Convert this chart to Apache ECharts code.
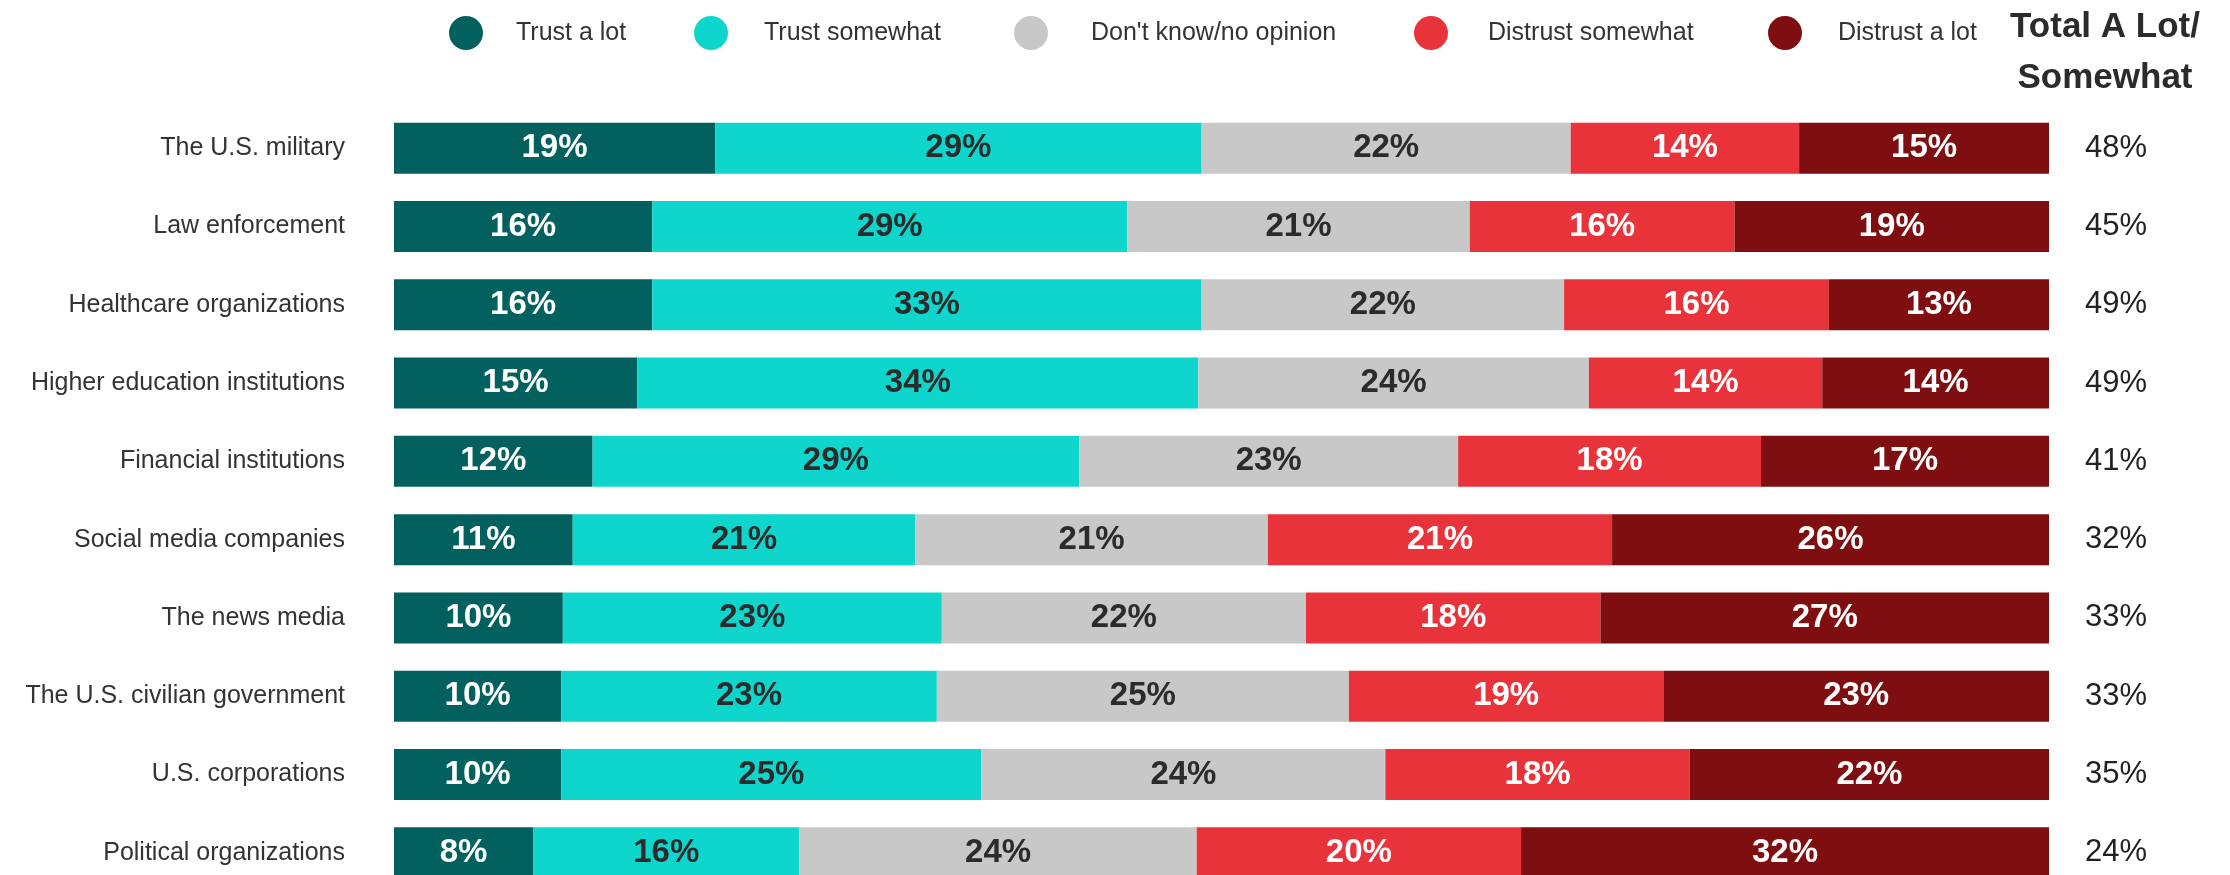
<!DOCTYPE html>
<html>
<head>
<meta charset="utf-8">
<script src="https://cdn.jsdelivr.net/npm/echarts@6/dist/echarts.min.js"></script>
<style>
html,body{margin:0;padding:0;background:#fff;}
#chart{width:2230px;height:875px;}
</style>
</head>
<body>
<div id="chart"></div>
<script>
var categories = ["The U.S. military","Law enforcement","Healthcare organizations","Higher education institutions","Financial institutions","Social media companies","The news media","The U.S. civilian government","U.S. corporations","Political organizations"];
var seriesNames = ["Trust a lot","Trust somewhat","Don't know/no opinion","Distrust somewhat","Distrust a lot"];
var trustALot       = [19.4, 15.6, 15.6, 14.7, 12.0, 10.8, 10.2, 10.1, 10.1, 8.4];
var trustSomewhat   = [29.4, 28.7, 33.2, 33.9, 29.4, 20.7, 22.9, 22.7, 25.4, 16.1];
var dontKnow        = [22.3, 20.7, 21.9, 23.6, 22.9, 21.3, 22.0, 24.9, 24.4, 24.0];
var distrustSomewhat= [13.8, 16.0, 16.0, 14.1, 18.3, 20.8, 17.8, 19.0, 18.4, 19.6];
var distrustALot    = [15.1, 19.0, 13.3, 13.7, 17.4, 26.4, 27.1, 23.3, 21.7, 31.9];
var totalALotSomewhat = ["48%","45%","49%","49%","41%","32%","33%","33%","35%","24%"];
var totalTitle = "Total A Lot/\nSomewhat";

var colors = ["#02605F","#0FD6CD","#C8C8C8","#E9333A","#7E0E10"];
var labelColors = ["#ffffff","#2b2b2b","#2b2b2b","#ffffff","#ffffff"];
var FONT = "Liberation Sans, Arial, sans-serif";
var dataSets = [trustALot, trustSomewhat, dontKnow, distrustSomewhat, distrustALot];

var legendLefts = [444, 689, 1009, 1409, 1763];
var legendPads = [28, 31, 38, 35, 31];

var legends = seriesNames.map(function(n, i){
  return {
    data: [n],
    left: legendLefts[i],
    top: 11,
    orient: 'horizontal',
    icon: 'circle',
    itemWidth: 34,
    itemHeight: 34,
    selectedMode: false,
    textStyle: {fontFamily: FONT, fontSize: 25, color: '#333', padding: [0,0,(i===2?10:0),legendPads[i]]}
  };
});

var series = dataSets.map(function(d, i){
  return {
    name: seriesNames[i],
    type: 'bar',
    stack: 'total',
    barWidth: 51,
    data: d,
    itemStyle: {color: colors[i]},
    label: {
      show: true,
      position: 'inside',
      formatter: function(p){ return Math.round(p.value) + '%'; },
      fontFamily: FONT,
      fontSize: 33,
      fontWeight: 'bold',
      color: labelColors[i]
    },
    emphasis: {disabled: true}
  };
});

var chart = echarts.init(document.getElementById('chart'), null, {renderer:'canvas'});
chart.setOption({
  animation: false,
  backgroundColor: '#fff',
  title: {
    text: totalTitle,
    left: 2100,
    top: -3,
    textAlign: 'center',
    textStyle: {fontFamily: FONT, fontSize: 35, fontWeight: 'bold', color: '#2b2b2b', lineHeight: 51, align: 'center'}
  },
  legend: legends,
  grid: {left: 394, right: 181, top: 109, bottom: -17, containLabel: false, outerBoundsMode: 'none'},
  xAxis: {type: 'value', min: 0, max: 100, show: false},
  yAxis: [{
    type: 'category',
    data: categories,
    inverse: true,
    axisLine: {show: false},
    axisTick: {show: false},
    axisLabel: {fontFamily: FONT, fontSize: 25, color: '#333', margin: 49, padding: [0,0,13,0]}
  },{
    type: 'category',
    data: totalALotSomewhat,
    inverse: true,
    position: 'right',
    axisLine: {show: false},
    axisTick: {show: false},
    axisLabel: {fontFamily: FONT, fontSize: 31, color: '#222', margin: 36, align: 'left'}
  }],
  series: series
});
</script>
</body>
</html>
